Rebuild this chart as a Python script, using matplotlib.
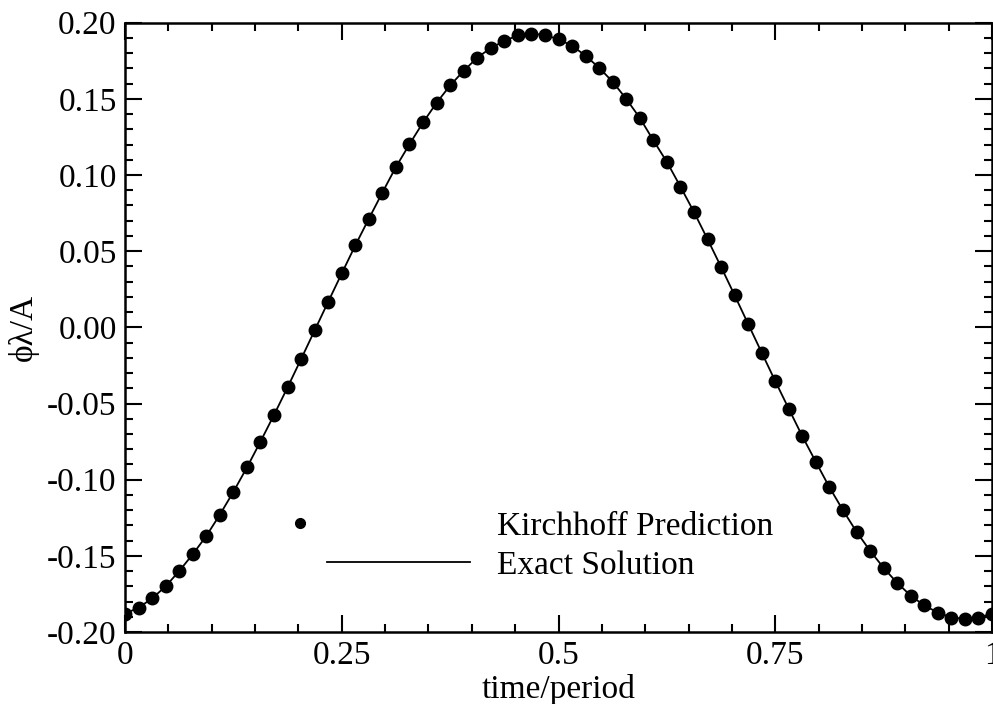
import numpy as np
import matplotlib
matplotlib.use("Agg")
import matplotlib.pyplot as plt
from matplotlib.ticker import MultipleLocator, FixedLocator, FixedFormatter
from matplotlib.lines import Line2D
from matplotlib.legend_handler import HandlerLine2D

# time/period, 65 samples over one period (step 1/64)
time = np.arange(65) / 64

kirchhoff = [
    -0.188, -0.184, -0.178, -0.170, -0.160, -0.149, -0.137, -0.123, -0.108, -0.092,
    -0.075, -0.0575, -0.0394, -0.0208, -0.0020, 0.0168, 0.0354, 0.0538, 0.0713, 0.0885,
    0.1053, 0.1202, 0.1345, 0.1474, 0.1588, 0.1684, 0.1770, 0.1834, 0.1880, 0.1917,
    0.1928, 0.1919, 0.1891, 0.1849, 0.1783, 0.1704, 0.1612, 0.1500, 0.1375, 0.1228,
    0.1086, 0.0924, 0.0757, 0.0579, 0.0397, 0.0211, 0.0022, -0.0166, -0.0353, -0.0535,
    -0.0715, -0.0884, -0.1050, -0.1201, -0.1342, -0.1467, -0.1579, -0.1678, -0.1761, -0.1826,
    -0.1872, -0.1905, -0.1914, -0.1905, -0.1879,
]
exact = kirchhoff

xticks = [0, 0.25, 0.5, 0.75, 1]
xticklabels = ["0", "0.25", "0.5", "0.75", "1"]


class LeftMarker(HandlerLine2D):
    # the key's dot sits left of where the line key starts
    def create_artists(self, legend, orig_handle, xdescent, ydescent, width,
                       height, fontsize, trans):
        y = (height - ydescent) / 2
        mark = Line2D([-xdescent - 0.8 * fontsize], [y], ls="none", marker="o",
                      ms=orig_handle.get_markersize(), color="black")
        mark.set_transform(trans)
        return [mark]


plt.rcParams["font.family"] = ["Liberation Serif", "DejaVu Serif"]

fig = plt.figure(figsize=(9.93, 7.04), dpi=100)
ax = fig.add_axes([125 / 993, 1 - 632 / 704, 867 / 993, (632 - 22.7) / 704])

ax.plot(time, exact, color="black", lw=1.3, zorder=2)
ax.plot(time, kirchhoff, ls="none", marker="o", ms=9, color="black", zorder=3)

ax.set_xlim(0, 1)
ax.set_ylim(-0.2, 0.2)
ax.xaxis.set_major_locator(FixedLocator(xticks))
ax.xaxis.set_major_formatter(FixedFormatter(xticklabels))
ax.xaxis.set_minor_locator(MultipleLocator(0.05))
ax.yaxis.set_major_locator(MultipleLocator(0.05))
ax.yaxis.set_minor_locator(MultipleLocator(0.01))
ax.yaxis.set_major_formatter(matplotlib.ticker.FormatStrFormatter("%.2f"))

ax.tick_params(which="both", direction="in", top=True, right=True, labelsize=24, width=1.5)
ax.tick_params(which="major", length=12, pad=6)
ax.tick_params(which="minor", length=6)
for s in ax.spines.values():
    s.set_linewidth(1.8)

ax.set_xlabel("time/period", fontsize=24, labelpad=2)
ax.set_ylabel("ϕλ/A", fontsize=24, labelpad=6)

dot = Line2D([], [], ls="none", marker="o", ms=7, color="black")
line = Line2D([], [], color="black", lw=1.3)
ax.legend([dot, line], ["Kirchhoff Prediction", "Exact Solution"], frameon=False,
          fontsize=24, loc="center left", bbox_to_anchor=(327 / 993, 1 - 546 / 704),
          bbox_transform=fig.transFigure, borderpad=0, borderaxespad=0,
          handlelength=4.3, handletextpad=0.8, labelspacing=0.25,
          handler_map={dot: LeftMarker()})

fig.savefig("out.png", dpi=100)
